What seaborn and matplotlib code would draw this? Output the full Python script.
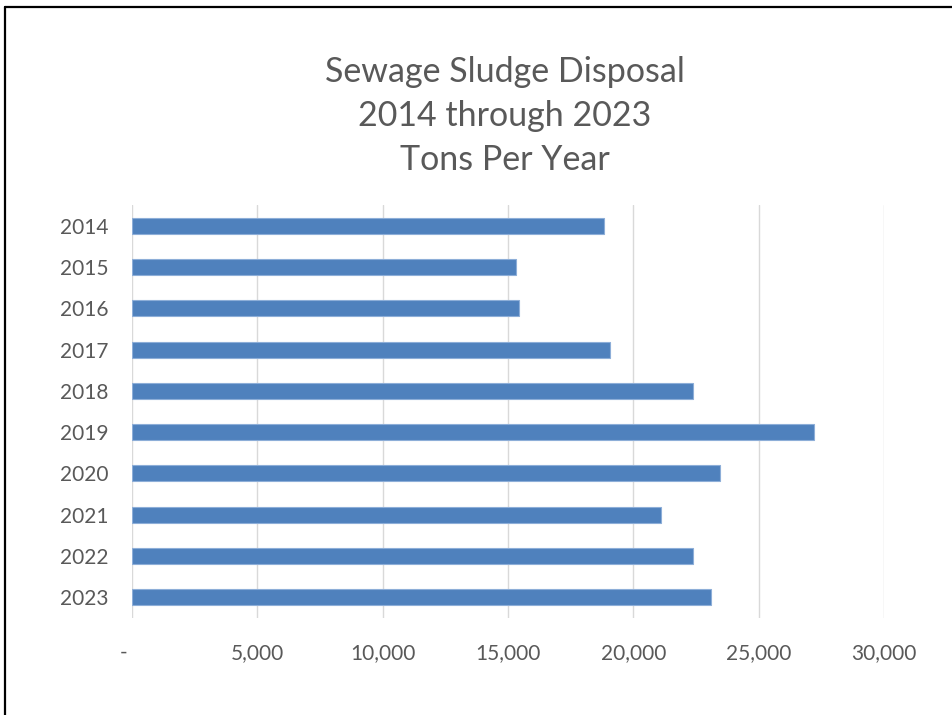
import matplotlib
matplotlib.use("Agg")
import matplotlib.pyplot as plt
from matplotlib.lines import Line2D
from matplotlib.ticker import FuncFormatter
import seaborn as sns
import pandas as pd

years = ["2014", "2015", "2016", "2017", "2018", "2019", "2020", "2021", "2022", "2023"]
tons = [18820, 15330, 15420, 19050, 22400, 27200, 23440, 21110, 22380, 23100]
x_ticks = [0, 5000, 10000, 15000, 20000, 25000, 30000]
title_lines = ["Sewage Sludge Disposal", "2014 through 2023", "Tons Per Year"]

sns.set_theme(style="white")
plt.rcParams["font.family"] = ["Lato", "DejaVu Sans"]

text_color = "#595959"
bar_color = "#4F81BD"
grid_color = "#D9D9D9"

df = pd.DataFrame({"year": years, "tons": tons})

fig = plt.figure(figsize=(9.53, 7.15), dpi=100)
ax = fig.add_axes([132 / 953, 97 / 715, 752 / 953, 413 / 715])

sns.barplot(data=df, x="tons", y="year", order=years, orient="h",
            color=bar_color, saturation=1, width=0.386,
            edgecolor="#8DAED8", linewidth=0.8, ax=ax, zorder=3)

ax.set_xlim(0, 30000)
ax.set_ylim(9.5, -0.5)
ax.set_xticks(x_ticks)
ax.xaxis.set_major_formatter(
    FuncFormatter(lambda v, _: "-   " if v == 0 else f"{int(v):,}"))
ax.grid(axis="x", color=grid_color, linewidth=1.0, zorder=0)
ax.grid(axis="y", visible=False)
for s in ax.spines.values():
    s.set_visible(False)
ax.tick_params(axis="x", length=0, pad=18, labelsize=15, labelcolor=text_color)
ax.tick_params(axis="y", length=0, pad=17, labelsize=15, labelcolor=text_color)
ax.set_xlabel("")
ax.set_ylabel("")

fig.text(505 / 953, 1 - 116 / 715, "\n".join(title_lines), ha="center", va="center",
         fontsize=24.5, color=text_color, linespacing=1.45)

# outer frame (top and left edges)
fig.add_artist(Line2D([5.5 / 953, 5.5 / 953], [0, 1 - 6.5 / 715],
                      color="black", linewidth=1.6, transform=fig.transFigure))
fig.add_artist(Line2D([5.5 / 953, 1], [1 - 6.5 / 715, 1 - 6.5 / 715],
                      color="black", linewidth=1.6, transform=fig.transFigure))

fig.savefig("out.png", dpi=100)
